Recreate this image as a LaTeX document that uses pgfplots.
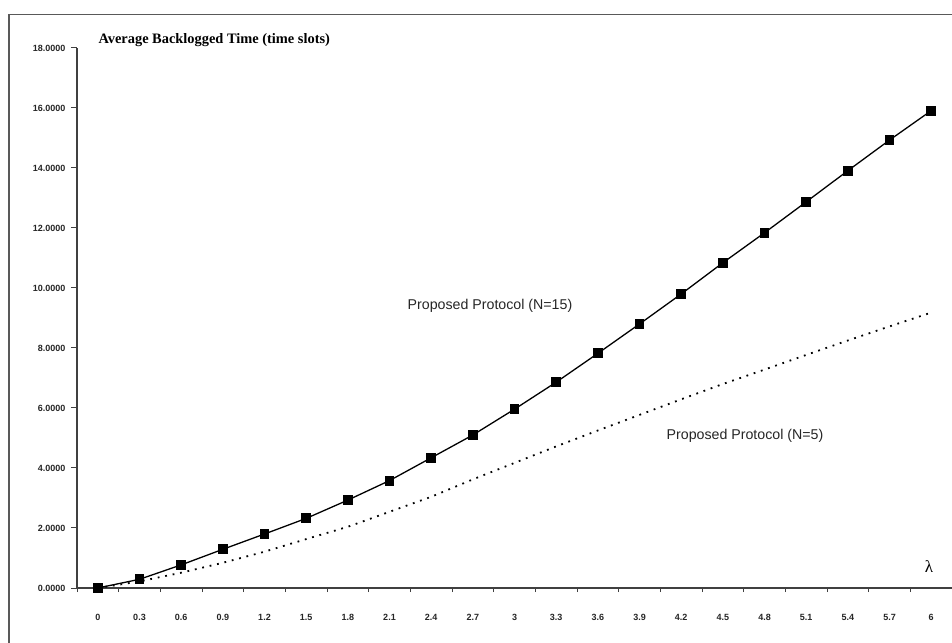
\documentclass[border=0pt]{standalone}
\usepackage{pgfplots}
\pgfplotsset{compat=1.18}
\usepackage{fontspec}
\setmainfont{Liberation Serif}
\newfontfamily\arial{Liberation Sans}
\begin{document}
\begin{tikzpicture}[x=1pt,y=1pt]
\useasboundingbox (0,0) rectangle (952,642);
\fill[white] (0,0) rectangle (952,642);
\draw[line width=1.4pt, black!65] (9,-5) -- (9,627.3) -- (960,627.3);
\begin{axis}[
  at={(77pt,54pt)}, anchor=south west,
  scale only axis, width=875pt, height=540pt,
  xmin=-0.5, xmax=20.5, ymin=0, ymax=18,
  axis x line=bottom, axis y line=left,
  axis line style={-, line width=1.2pt, black!75},
  tick align=outside,
  xtick={0,...,20},
  xticklabels={0,0.3,0.6,0.9,1.2,1.5,1.8,2.1,2.4,2.7,3,3.3,3.6,3.9,4.2,4.5,4.8,5.1,5.4,5.7,6},
  major x tick style={draw=none},
  minor xtick={-0.5,0.5,1.5,2.5,3.5,4.5,5.5,6.5,7.5,8.5,9.5,10.5,11.5,12.5,13.5,14.5,15.5,16.5,17.5,18.5,19.5},
  minor tick length=4pt,
  minor x tick style={line width=1pt, black!75},
  ytick={0,2,...,18},
  yticklabels={0.0000,2.0000,4.0000,6.0000,8.0000,10.0000,12.0000,14.0000,16.0000,18.0000},
  major tick length=6pt,
  major y tick style={line width=1pt, black!75},
  xticklabel style={font=\arial\bfseries\fontsize{9}{10}\selectfont, text=black!85, yshift=-17pt},
  yticklabel style={font=\arial\bfseries\fontsize{9}{10}\selectfont, text=black!85, anchor=east, xshift=-2pt},
  clip=false,
]
\addplot[black, line width=1.3pt, mark=square*, mark size=4.3pt, mark options={solid}] coordinates {
(0,0) (1,0.29) (2,0.77) (3,1.29) (4,1.80) (5,2.32) (6,2.93) (7,3.58) (8,4.34) (9,5.10)
(10,5.96) (11,6.86) (12,7.82) (13,8.80) (14,9.80) (15,10.84) (16,11.84) (17,12.87) (18,13.91) (19,14.93) (20,15.91)
};
\addplot[black, line width=1.8pt, dash pattern=on 1.8pt off 5.8pt] coordinates {
(0,0) (1,0.22) (2,0.51) (3,0.84) (4,1.21) (5,1.63) (6,2.04) (7,2.54) (8,3.04) (9,3.62)
(10,4.17) (11,4.72) (12,5.25) (13,5.77) (14,6.29) (15,6.80) (16,7.28) (17,7.77) (18,8.25) (19,8.72) (20,9.18)
};
\end{axis}
\node[anchor=base west, font=\bfseries\fontsize{14.4}{15}\selectfont] at (95,598) {Average Backlogged Time (time slots)};
\node[font=\arial\fontsize{14.2}{15}\selectfont, text=black!85] at (490,336) {Proposed Protocol (N=15)};
\node[font=\arial\fontsize{14.2}{15}\selectfont, text=black!85] at (745,206) {Proposed Protocol (N=5)};
\node[font=\fontsize{17}{18}\selectfont] at (929,75) {λ};
\end{tikzpicture}
\end{document}
